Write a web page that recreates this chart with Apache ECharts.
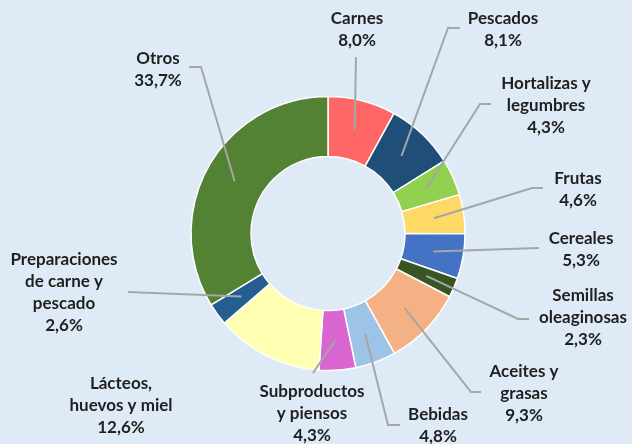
<!DOCTYPE html>
<html>
<head>
<meta charset="utf-8">
<script src="https://cdn.jsdelivr.net/npm/echarts@6/dist/echarts.min.js"></script>
<style>
html,body{margin:0;padding:0;background:#deeaf6;}
#c{width:632px;height:444px;}
</style>
</head>
<body>
<div id="c"></div>
<script>
// ---- data ----
const categories = ['Carnes', 'Pescados', 'Hortalizas y\nlegumbres', 'Frutas', 'Cereales',
  'Semillas\noleaginosas', 'Aceites y\ngrasas', 'Bebidas', 'Subproductos\ny piensos',
  'Lácteos,\nhuevos y miel', 'Preparaciones\nde carne y\npescado', 'Otros'];
const shares = [8.0, 8.1, 4.3, 4.6, 5.3, 2.3, 9.3, 4.8, 4.3, 12.6, 2.6, 33.7];

// ---- styles / layout ----
const colors = ['#ff6666', '#1f4e79', '#92d050', '#ffd966', '#4472c4', '#375623',
  '#f4b183', '#9dc3e6', '#da66d1', '#ffffb3', '#255e91', '#548235'];
const labelAt = [[357, 30], [503, 30], [546, 106], [578, 190], [581, 250], [583, 318],
  [524, 394], [438, 426], [312, 414], [121, 406], [64, 293], [158, 70]];
const lineBend = [null, [448, 28], [480, 104], [532, 188], null, [518, 319],
  [471, 392], [388, 425], null, null, null, [201, 67]];
const lineEnd = [[356, 57], [460, 28], [491, 104], [543, 188], [539, 248], [529, 319],
  [481, 392], [400, 425], [313, 373], null, [128, 292], [189, 67]];
const inset = 30; // how far inside the ring the leader line starts

const chart = echarts.init(document.getElementById('c'), null, {renderer: 'canvas'});
const fmt = v => v.toFixed(1).replace('.', ',') + '%';

const pieBase = {
  type: 'pie',
  center: [328, 233.5],
  radius: [77, 137],
  startAngle: 90,
  clockwise: true,
  avoidLabelOverlap: false
};

chart.setOption({
  backgroundColor: '#deeaf6',
  animation: false,
  color: colors,
  series: [
    Object.assign({}, pieBase, {
      z: 2,
      itemStyle: {borderColor: '#ffffff', borderWidth: 1.5},
      label: {show: false},
      labelLine: {show: false},
      data: categories.map((c, i) => ({name: c, value: shares[i]}))
    }),
    Object.assign({}, pieBase, {
      z: 3,
      silent: true,
      itemStyle: {color: 'rgba(0,0,0,0)', borderWidth: 0},
      label: {
        show: true,
        position: 'outside',
        formatter: p => p.name + '\n' + fmt(p.value),
        fontFamily: 'Lato',
        fontWeight: 'bold',
        fontSize: 17,
        lineHeight: 22,
        color: '#1f1f1f',
        align: 'center'
      },
      labelLine: {
        show: true,
        showAbove: true,
        length: 10,
        length2: 5,
        lineStyle: {color: '#a6a6a6', width: 2}
      },
      labelLayout: function (params) {
        const i = params.dataIndex;
        const out = {x: labelAt[i][0], y: labelAt[i][1], align: 'center', verticalAlign: 'middle'};
        const pts = params.labelLinePoints;
        if (lineEnd[i] && pts && pts.length >= 2) {
          const p0 = pts[0], p1 = pts[1];
          const dx = p1[0] - p0[0], dy = p1[1] - p0[1];
          const len = Math.sqrt(dx * dx + dy * dy) || 1;
          const start = [p0[0] - dx / len * inset, p0[1] - dy / len * inset];
          const bend = lineBend[i] || lineEnd[i];
          out.labelLinePoints = [start, bend, lineEnd[i]];
        }
        return out;
      },
      data: categories.map((c, i) => ({
        name: c,
        value: shares[i],
        labelLine: {show: !!lineEnd[i]}
      }))
    })
  ]
});
</script>
</body>
</html>
